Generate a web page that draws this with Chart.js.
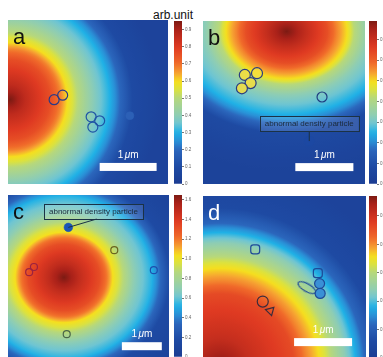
<!DOCTYPE html>
<html>
<head>
<meta charset="utf-8">
<script src="https://cdn.jsdelivr.net/npm/chart.js@4"></script>
<style>
  html, body { margin: 0; padding: 0; background: #fff; overflow: hidden; }
  body { width: 383px; height: 357px; position: relative; }
  canvas { position: absolute; }
  #unit { position: absolute; left: 153px; top: 8px; font: 12px "Liberation Sans", Arial, sans-serif; color: #111; }
</style>
</head>
<body>
<div id="unit">arb.unit</div>
<canvas id="pa" width="160" height="164" style="left:8px;top:20px"></canvas>
<canvas id="pb" width="162" height="163" style="left:203px;top:21px"></canvas>
<canvas id="pc" width="161" height="164" style="left:8px;top:195px"></canvas>
<canvas id="pd" width="163" height="163" style="left:203px;top:196px"></canvas>
<canvas id="ca" width="30" height="171" style="left:174px;top:17px"></canvas>
<canvas id="cb" width="30" height="171" style="left:369px;top:17px"></canvas>
<canvas id="cc" width="30" height="170" style="left:174px;top:191px"></canvas>
<canvas id="cd" width="30" height="170" style="left:369px;top:192px"></canvas>
<script>
// colormap: fraction of colorbar max -> colour
const cmapPos = [0, 0.105, 0.21, 0.26, 0.316, 0.37, 0.42, 0.53, 0.58, 0.63, 0.68, 0.74, 0.84, 0.95, 1];
const cmapCol = ['#1b3c92', '#1e4aa3', '#2b66bc', '#2a8fd6', '#1fb1e6', '#6fc5d2', '#8ecdb4', '#b7d87a',
                 '#dce23e', '#f5df1e', '#f6a232', '#f06a2a', '#df3a22', '#a92119', '#7c1a13'];

// panel a (radial profile in um, values in arb.unit)
const aCenter = [0.04, 1.40];
const aRadius = [0, 0.26, 0.70, 0.88, 1.00, 1.19, 1.44, 1.75, 1.93, 2.14, 2.63];
const aValue  = [0.95, 0.86, 0.76, 0.68, 0.60, 0.50, 0.40, 0.30, 0.20, 0.10, 0.05];
const aInner  = [{x: 0.81, y: 1.40}, {x: 0.96, y: 1.32}];
const aOuter  = [{x: 1.46, y: 1.70}, {x: 1.61, y: 1.77}, {x: 1.49, y: 1.88}];
const aDense  = [{x: 2.14, y: 1.68}];
const aTicks  = { max: 0.95, step: 0.1 };

// panel b
const bCenter = [1.44, 0.18];
const bRadius = [0, 0.26, 0.55, 0.66, 0.81, 0.91, 1.10, 1.43, 1.59, 1.76, 2.41];
const bValue  = [0.79, 0.71, 0.63, 0.57, 0.50, 0.42, 0.33, 0.25, 0.17, 0.08, 0.04];
const bCluster = [{x: 0.72, y: 0.93}, {x: 0.93, y: 0.90}, {x: 0.82, y: 1.07}, {x: 0.67, y: 1.16}];
const bSingle = [{x: 2.05, y: 1.31}];
const bDense  = [{x: 1.83, y: 2.07}];
const bTicks  = { max: 0.79, step: 0.1 };

// panel c
const cCenter = [1.40, 2.06];
const cRadius = [0, 0.35, 0.83, 1.00, 1.13, 1.38, 1.63, 2.03, 2.23, 2.45, 3.25];
const cValue  = [1.65, 1.49, 1.32, 1.19, 1.04, 0.87, 0.69, 0.53, 0.35, 0.17, 0.08];
const cDense  = [{x: 1.51, y: 0.81}];
const cYellow = [{x: 2.66, y: 1.38}];
const cRed    = [{x: 0.53, y: 1.93}, {x: 0.65, y: 1.80}];
const cBlue   = [{x: 3.65, y: 1.88}];
const cGreen  = [{x: 1.47, y: 3.48}];
const cTicks  = { max: 1.65, step: 0.2 };

// panel d
const dCenter = [0.29, 2.97];
const dRadius = [0, 0.52, 1.28, 1.48, 1.72, 1.93, 2.16, 2.34, 2.50, 2.76, 3.45];
const dValue  = [0.57, 0.51, 0.46, 0.41, 0.36, 0.30, 0.24, 0.18, 0.12, 0.06, 0.03];
const dSquares = [{x: 0.90, y: 0.92}, {x: 1.98, y: 1.33}];
const dFilled = [{x: 2.01, y: 1.51}, {x: 2.02, y: 1.68}];
const dRod    = [{x: 1.79, y: 1.58}];
const dRound  = [{x: 1.03, y: 1.82}];
const dTri    = [{x: 1.16, y: 1.98}];
const dTicks  = { max: 0.57, step: 0.1 };

const FONT = '"Liberation Sans", Arial, sans-serif';

function hex(c) {
  return [1, 3, 5].map(i => parseInt(c.slice(i, i + 2), 16));
}

function cmap(t) {
  t = Math.max(0, Math.min(1, t));
  let i = 1;
  while (i < cmapPos.length - 1 && t > cmapPos[i]) i++;
  const f = (t - cmapPos[i - 1]) / (cmapPos[i] - cmapPos[i - 1]);
  const c0 = hex(cmapCol[i - 1]), c1 = hex(cmapCol[i]);
  const c = c0.map((v, k) => Math.round(v + (c1[k] - v) * f));
  return `rgb(${c[0]},${c[1]},${c[2]})`;
}

const panels = {
  pa: { letter: 'a', ink: '#111', w: 2.81, h: 2.88, center: aCenter, stretch: 1, radius: aRadius, value: aValue, max: aTicks.max, bar: [1.61, 2.51] },
  pb: { letter: 'b', ink: '#111', w: 2.79, h: 2.81, center: bCenter, stretch: 1.28, radius: bRadius, value: bValue, max: bTicks.max, bar: [1.59, 2.45],
        callout: { target: bDense[0], box: [1.83, 1.90], join: [1.83, 1.90] } },
  pc: { letter: 'c', ink: '#111', w: 4.03, h: 4.10, center: cCenter, stretch: 1.08, radius: cRadius, value: cValue, max: cTicks.max, bar: [2.85, 3.68],
        callout: { target: cDense[0], box: [2.14, 0.60], join: [2.22, 0.60] } },
  pd: { letter: 'd', ink: '#fff', w: 2.81, h: 2.81, center: dCenter, stretch: 1, radius: dRadius, value: dValue, max: dTicks.max, bar: [1.57, 2.45] }
};

// heat field, scale bar, labels
const fieldPlugin = {
  id: 'field',
  beforeDatasetsDraw(chart) {
    const p = panels[chart.canvas.id];
    const { ctx, chartArea: a, scales: { x, y } } = chart;
    const ppm = y.getPixelForValue(1) - y.getPixelForValue(0);
    const R = p.radius[p.radius.length - 1] * ppm;
    ctx.save();
    ctx.beginPath();
    ctx.rect(a.left, a.top, a.right - a.left, a.bottom - a.top);
    ctx.clip();
    ctx.translate(x.getPixelForValue(p.center[0]), y.getPixelForValue(p.center[1]));
    ctx.scale(p.stretch, 1);
    const g = ctx.createRadialGradient(0, 0, 0, 0, 0, R);
    for (let i = 0; i < p.radius.length - 1; i++) {
      for (let k = 0; k < 8; k++) {
        const f = k / 8;
        const r = p.radius[i] + (p.radius[i + 1] - p.radius[i]) * f;
        const v = p.value[i] + (p.value[i + 1] - p.value[i]) * f;
        g.addColorStop(r * ppm / R, cmap(v / p.max));
      }
    }
    g.addColorStop(1, cmap(p.value[p.value.length - 1] / p.max));
    ctx.fillStyle = g;
    ctx.fillRect(-1000, -1000, 2000, 2000);
    ctx.restore();
  },
  afterDatasetsDraw(chart) {
    const p = panels[chart.canvas.id];
    const { ctx, scales: { x, y } } = chart;
    ctx.save();
    // panel letter
    ctx.fillStyle = p.ink;
    ctx.font = '22px ' + FONT;
    ctx.fillText(p.letter, 5, 24);
    // scale bar, 1 um long
    const x0 = x.getPixelForValue(p.bar[0]), x1 = x.getPixelForValue(p.bar[0] + 1);
    const y0 = y.getPixelForValue(p.bar[1]);
    ctx.fillStyle = '#fff';
    ctx.fillRect(x0, y0, x1 - x0, 8);
    ctx.font = '10px ' + FONT;
    const w1 = ctx.measureText('1').width;
    ctx.font = 'italic 10px ' + FONT;
    const wu = ctx.measureText('\u03bc').width;
    ctx.font = '10px ' + FONT;
    const wm = ctx.measureText('m').width;
    let tx = (x0 + x1) / 2 - (w1 + 1.5 + wu + wm) / 2;
    const ty = y0 - 5;
    ctx.fillText('1', tx, ty);
    tx += w1 + 1.5;
    ctx.font = 'italic 10px ' + FONT;
    ctx.fillText('\u03bc', tx, ty);
    ctx.font = '10px ' + FONT;
    ctx.fillText('m', tx + wu, ty);
    // callout for the abnormal density particle
    if (p.callout) {
      const c = p.callout;
      ctx.strokeStyle = '#1b3246';
      ctx.lineWidth = 1;
      ctx.beginPath();
      ctx.moveTo(x.getPixelForValue(c.target.x), y.getPixelForValue(c.target.y));
      ctx.lineTo(x.getPixelForValue(c.join[0]), y.getPixelForValue(c.join[1]));
      ctx.stroke();
      ctx.font = '8px ' + FONT;
      const label = 'abnormal density particle';
      const bw = ctx.measureText(label).width + 10, bh = 15;
      const bx = x.getPixelForValue(c.box[0]) - bw / 2, by = y.getPixelForValue(c.box[1]) - bh;
      ctx.fillStyle = 'rgba(255,255,255,0.12)';
      ctx.fillRect(bx, by, bw, bh);
      ctx.strokeRect(Math.round(bx) + 0.5, Math.round(by) + 0.5, Math.round(bw), bh);
      ctx.fillStyle = '#1b2a3a';
      ctx.textAlign = 'center';
      ctx.textBaseline = 'middle';
      ctx.fillText(label, bx + bw / 2, by + bh / 2 + 0.5);
    }
    ctx.restore();
  }
};

function panelChart(id, sets) {
  const p = panels[id];
  return new Chart(document.getElementById(id), {
    type: 'scatter',
    data: { datasets: sets.map(s => Object.assign({ borderWidth: 1.2, pointHoverRadius: 0 }, s)) },
    options: {
      responsive: false, animation: false, events: [],
      layout: { padding: 0, autoPadding: false },
      plugins: { legend: { display: false }, tooltip: { enabled: false } },
      scales: {
        x: { display: false, min: 0, max: p.w },
        y: { display: false, min: 0, max: p.h, reverse: true }
      }
    },
    plugins: [fieldPlugin]
  });
}

function colorbar(id, t) {
  new Chart(document.getElementById(id), {
    type: 'bar',
    data: {
      labels: [''],
      datasets: [{
        data: [t.max], borderWidth: 0, barPercentage: 1, categoryPercentage: 1,
        backgroundColor: c => {
          const a = c.chart.chartArea;
          if (!a) return null;
          const g = c.chart.ctx.createLinearGradient(0, a.bottom, 0, a.top);
          for (let k = 0; k <= 40; k++) g.addColorStop(k / 40, cmap(k / 40));
          return g;
        }
      }]
    },
    options: {
      responsive: false, animation: false, events: [],
      layout: { padding: { top: 4, bottom: 4, left: 0, right: 0 }, autoPadding: false },
      plugins: { legend: { display: false }, tooltip: { enabled: false } },
      scales: {
        x: { display: false },
        y: {
          position: 'right', min: 0, max: t.max,
          border: { display: false },
          grid: { drawOnChartArea: false, tickLength: 2, color: '#777' },
          ticks: { stepSize: t.step, includeBounds: false, padding: 1, color: '#666', font: { size: 4.5, family: FONT } },
          afterFit: s => { s.width = 22; s.paddingTop = 0; s.paddingBottom = 0; }
        }
      }
    }
  });
}

const rod = document.createElement('canvas');
rod.width = 22; rod.height = 10;
const rc = rod.getContext('2d');
rc.strokeStyle = '#1e4a98'; rc.lineWidth = 1.2;
rc.beginPath(); rc.ellipse(11, 5, 10, 3.8, 0, 0, 2 * Math.PI); rc.stroke();

panelChart('pa', [
  { data: aInner, pointRadius: 5, borderColor: '#2c3a86', backgroundColor: 'rgba(0,0,0,0)' },
  { data: aOuter, pointRadius: 5, borderColor: '#1f54a6', backgroundColor: 'rgba(0,0,0,0)' },
  { data: aDense, pointRadius: 4, borderColor: '#2c60b6', backgroundColor: '#2c60b6', borderWidth: 0.5 }
]);
panelChart('pb', [
  { data: bCluster, pointRadius: 5.5, borderColor: '#2a3c80', backgroundColor: 'rgba(244,222,62,0.85)' },
  { data: bSingle, pointRadius: 5, borderColor: '#1f3d80', backgroundColor: 'rgba(0,0,0,0)' },
  { data: bDense, pointRadius: 5, borderColor: '#1c48a2', backgroundColor: '#1c48a2', borderWidth: 0.5 }
]);
panelChart('pc', [
  { data: cDense, pointRadius: 4.3, borderColor: '#1b55b6', backgroundColor: '#1b55b6', borderWidth: 0.5 },
  { data: cYellow, pointRadius: 3.5, borderColor: '#6a6420', backgroundColor: 'rgba(0,0,0,0)' },
  { data: cRed, pointRadius: 3.5, borderColor: '#9c2240', backgroundColor: 'rgba(0,0,0,0)' },
  { data: cBlue, pointRadius: 3.5, borderColor: '#1e4fae', backgroundColor: 'rgba(0,0,0,0)' },
  { data: cGreen, pointRadius: 3.5, borderColor: '#4a6648', backgroundColor: 'rgba(0,0,0,0)' }
]);
panelChart('pd', [
  { data: dSquares, pointStyle: 'rectRounded', pointRadius: 5.2, borderColor: '#1e4a98', backgroundColor: 'rgba(0,0,0,0)' },
  { data: dFilled, pointRadius: 5, borderColor: '#1e4a98', backgroundColor: '#3a90d6' },
  { data: dRod, pointStyle: rod, pointRadius: 5, pointRotation: 30 },
  { data: dRound, pointRadius: 5.5, borderColor: '#3c2c3c', backgroundColor: 'rgba(0,0,0,0)' },
  { data: dTri, pointStyle: 'triangle', pointRadius: 5, pointRotation: 165, borderColor: '#3c2c3c', backgroundColor: 'rgba(0,0,0,0)' }
]);

colorbar('ca', aTicks);
colorbar('cb', bTicks);
colorbar('cc', cTicks);
colorbar('cd', dTicks);
</script>
</body>
</html>
